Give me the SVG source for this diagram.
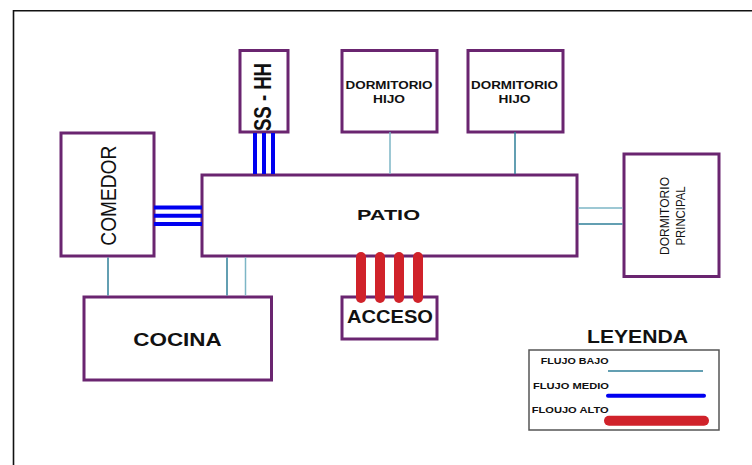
<svg xmlns="http://www.w3.org/2000/svg" width="752" height="465" viewBox="0 0 752 465">
<style>
.box{fill:#fff;stroke:#6a2570;stroke-width:3}
.t{font-family:"Liberation Sans",Arial,sans-serif;font-weight:bold;fill:#111;text-anchor:middle}
.r{font-family:"Liberation Sans",Arial,sans-serif;fill:#111;text-anchor:middle}
.lo{stroke:#2f7f98;stroke-width:1.5;fill:none}
.lo2{stroke:#7db6c6;stroke-width:1.5;fill:none}
.med{stroke:#0000f0;stroke-width:4;fill:none}
.hi{stroke:#d0222a;stroke-width:10;stroke-linecap:round;fill:none}
.lt{font-family:"Liberation Sans",Arial,sans-serif;font-weight:bold;font-size:8.5px;fill:#111}
</style>
<rect width="752" height="465" fill="#fff"/>
<path d="M13.5 465 V10.7 H752" fill="none" stroke="#111" stroke-width="1.6"/>
<g id="patio">
<rect class="box" x="202" y="175" width="375" height="81"/>
<text class="t" x="388.5" y="220" font-size="15.5" textLength="63" lengthAdjust="spacingAndGlyphs">PATIO</text>
</g>
<g id="sshh">
<rect class="box" x="240" y="50.5" width="48" height="81.5"/>
<text class="t" transform="translate(270.5 97) rotate(-90)" font-size="23" textLength="68" lengthAdjust="spacingAndGlyphs">SS - HH</text>
</g>
<g id="dorm-hijo-1">
<rect class="box" x="342" y="50.5" width="95" height="81.5"/>
<text class="t" x="389" y="89" font-size="11.5" textLength="87" lengthAdjust="spacingAndGlyphs">DORMITORIO</text>
<text class="t" x="389" y="102.5" font-size="11.5" textLength="32" lengthAdjust="spacingAndGlyphs">HIJO</text>
</g>
<g id="dorm-hijo-2">
<rect class="box" x="468" y="50.5" width="95" height="81.5"/>
<text class="t" x="514.5" y="89" font-size="11.5" textLength="87" lengthAdjust="spacingAndGlyphs">DORMITORIO</text>
<text class="t" x="514.5" y="102.5" font-size="11.5" textLength="32" lengthAdjust="spacingAndGlyphs">HIJO</text>
</g>
<g id="comedor">
<rect class="box" x="61" y="133" width="93" height="123"/>
<text class="r" transform="translate(115.5 195.7) rotate(-90)" font-size="22" textLength="100" lengthAdjust="spacingAndGlyphs">COMEDOR</text>
</g>
<g id="dorm-principal">
<rect class="box" x="624" y="154" width="95" height="122.5"/>
<text class="r" transform="translate(669.3 216) rotate(-90)" font-size="13" textLength="78" lengthAdjust="spacingAndGlyphs">DORMITORIO</text>
<text class="r" transform="translate(685 216) rotate(-90)" font-size="13" textLength="59" lengthAdjust="spacingAndGlyphs">PRINCIPAL</text>
</g>
<g id="cocina">
<rect class="box" x="84" y="297" width="187.5" height="83"/>
<text class="t" x="177.5" y="345.7" font-size="19" textLength="88.5" lengthAdjust="spacingAndGlyphs">COCINA</text>
</g>
<g id="acceso">
<rect class="box" x="342" y="297" width="95" height="42"/>
<text class="t" x="390" y="323.3" font-size="18.5" textLength="86" lengthAdjust="spacingAndGlyphs">ACCESO</text>
</g>
<g id="connectors">
<line class="lo2" x1="390" y1="132" x2="390" y2="174"/>
<line class="lo" x1="515" y1="132" x2="515" y2="174"/>
<line class="med" x1="255" y1="133" x2="255" y2="174"/>
<line class="med" x1="264" y1="133" x2="264" y2="174"/>
<line class="med" x1="273" y1="133" x2="273" y2="174"/>
<line class="med" x1="154" y1="207.5" x2="202" y2="207.5"/>
<line class="med" x1="154" y1="215.7" x2="202" y2="215.7"/>
<line class="med" x1="154" y1="224" x2="202" y2="224"/>
<line class="lo" x1="108" y1="257.5" x2="108" y2="295.5"/>
<line class="lo" x1="227" y1="257.5" x2="227" y2="295.5"/>
<line class="lo2" x1="245.5" y1="257.5" x2="245.5" y2="295.5"/>
<line class="lo2" x1="578.5" y1="208" x2="622.5" y2="208"/>
<line class="lo" x1="578.5" y1="224" x2="622.5" y2="224"/>
<line class="hi" x1="361" y1="257" x2="361" y2="298"/>
<line class="hi" x1="380" y1="257" x2="380" y2="298"/>
<line class="hi" x1="399" y1="257" x2="399" y2="298"/>
<line class="hi" x1="418" y1="257" x2="418" y2="298"/>
</g>
<g id="leyenda">
<text class="t" x="637.5" y="343.3" font-size="18.5" textLength="101" lengthAdjust="spacingAndGlyphs">LEYENDA</text>
<rect x="529" y="350" width="190" height="80" fill="#fff" stroke="#555" stroke-width="1.5"/>
<text class="lt" x="540.7" y="364" textLength="68" lengthAdjust="spacingAndGlyphs">FLUJO BAJO</text>
<line class="lo" x1="608" y1="371" x2="703" y2="371"/>
<text class="lt" x="533" y="389" textLength="76" lengthAdjust="spacingAndGlyphs">FLUJO MEDIO</text>
<line x1="608" y1="395.7" x2="704" y2="395.7" stroke="#0000f0" stroke-width="4" stroke-linecap="round"/>
<text class="lt" x="531.7" y="413.3" textLength="77" lengthAdjust="spacingAndGlyphs">FLOUJO ALTO</text>
<line class="hi" x1="609" y1="420.7" x2="704" y2="420.7"/>
</g>
</svg>
